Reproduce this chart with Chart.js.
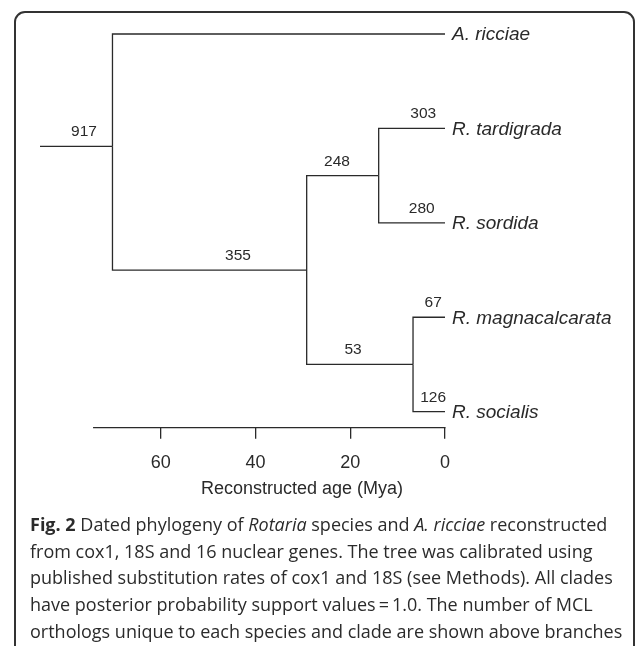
<!DOCTYPE html>
<html>
<head>
<meta charset="utf-8">
<script src="https://cdn.jsdelivr.net/npm/chart.js"></script>
<style>
  body { margin: 0; background: #fff; }
  #wrap { position: relative; width: 636px; height: 646px; overflow: hidden; }
  #frame { position: absolute; left: 14px; top: 11px; width: 621px; height: 720px; border: 2px solid #333; border-radius: 11px; box-sizing: border-box; }
  #tree { position: absolute; left: 0; top: 0; }
  #caption { position: absolute; left: 30px; top: 511px; font-family: 'Open Sans', sans-serif; font-size: 18px; line-height: 26.7px; color: #2b2b2b; white-space: nowrap; }
  #caption b { font-weight: 700; }
</style>
</head>
<body>
<div id="wrap">
  <div id="frame"></div>
  <canvas id="tree" width="636" height="520"></canvas>
  <div id="caption">
    <div><b>Fig. 2</b> Dated phylogeny of <i>Rotaria</i> species and <i>A. ricciae</i> reconstructed</div>
    <div>from cox1, 18S and 16 nuclear genes. The tree was calibrated using</div>
    <div>published substitution rates of cox1 and 18S (see Methods). All clades</div>
    <div>have posterior probability support values&#8201;=&#8201;1.0. The number of MCL</div>
    <div>orthologs unique to each species and clade are shown above branches</div>
  </div>
</div>
<script>
// tree nodes: stem start, internal nodes, then the tips from top to bottom
const nodeNames = ['stem', 'crown', 'Rotaria', 'tardigrada+sordida', 'magnacalcarata+socialis',
    'A. ricciae', 'R. tardigrada', 'R. sordida', 'R. magnacalcarata', 'R. socialis'];
const nodeAges = [85.5, 70.2, 29.2, 14.0, 6.75, 0, 0, 0, 0, 0];
const nodeRows = [1.19, 1.19, 2.5, 1.5, 3.5, 0, 1, 2, 3, 4];
const nodeParents = [-1, 0, 1, 2, 2, 1, 3, 3, 4, 4];
// MCL orthologs unique to the branch leading to each node
const orthologs = [null, 917, 355, 248, 53, null, 303, 280, 67, 126];
// age (Mya) where each count is printed along its branch
const countAges = [null, 76.2, 43.7, 22.8, 19.4, null, 4.6, 4.9, 2.5, 2.5];
const ageTicks = [60, 40, 20, 0];
const axisStart = 74.3;

const ink = '#2a2a2a';
const sans = '"Liberation Sans", Arial, Helvetica, sans-serif';

// one elbow line per branch: down/up the parent's vertical, then across to the child
const edges = [];
nodeParents.forEach((p, i) => {
    if (p < 0) return;
    edges.push({
        data: [
            {x: nodeAges[p], y: nodeRows[p]},
            {x: nodeAges[p], y: nodeRows[i]},
            {x: nodeAges[i], y: nodeRows[i]}
        ],
        showLine: true,
        borderColor: ink,
        borderWidth: 1.3,
        borderJoinStyle: 'miter',
        pointRadius: 0,
        tension: 0,
        clip: false
    });
});

const treeText = {
    id: 'treeText',
    afterDatasetsDraw(chart) {
        const {ctx, scales: {x, y}} = chart;
        ctx.save();
        ctx.fillStyle = ink;

        // ortholog counts above branches
        ctx.font = '15.5px ' + sans;
        ctx.textAlign = 'center';
        ctx.textBaseline = 'alphabetic';
        orthologs.forEach((n, i) => {
            if (n === null) return;
            ctx.fillText(String(n), x.getPixelForValue(countAges[i]), y.getPixelForValue(nodeRows[i]) - 10);
        });

        // tip names
        ctx.font = 'italic 19px ' + sans;
        ctx.textAlign = 'left';
        ctx.textBaseline = 'middle';
        nodeNames.forEach((name, i) => {
            if (nodeAges[i] !== 0) return;
            ctx.fillText(name, x.getPixelForValue(0) + 7, y.getPixelForValue(nodeRows[i]) + 1);
        });

        // time axis line
        const yb = chart.chartArea.bottom;
        ctx.strokeStyle = ink;
        ctx.lineWidth = 1.3;
        ctx.beginPath();
        ctx.moveTo(x.getPixelForValue(axisStart), yb);
        ctx.lineTo(x.getPixelForValue(0) + 0.6, yb);
        ctx.stroke();

        // axis title
        ctx.font = '18px ' + sans;
        ctx.textAlign = 'center';
        ctx.fillText('Reconstructed age (Mya)', 302, 489);
        ctx.restore();
    }
};

new Chart(document.getElementById('tree'), {
    type: 'scatter',
    data: { datasets: edges },
    options: {
        responsive: false,
        animation: false,
        layout: { padding: { left: 40, right: 191, top: 34, bottom: 0 } },
        plugins: { legend: { display: false }, tooltip: { enabled: false } },
        scales: {
            x: {
                type: 'linear',
                reverse: true,
                min: 0,
                max: 85.5,
                afterBuildTicks: s => { s.ticks = ageTicks.map(v => ({value: v})); },
                afterFit: s => { s.height = 92.3; },
                grid: { drawOnChartArea: false, drawTicks: true, tickLength: 11, color: ink, lineWidth: 1.3 },
                border: { display: false },
                ticks: { color: ink, font: { family: sans, size: 18 }, padding: 13.5, maxRotation: 0, autoSkip: false }
            },
            y: { type: 'linear', reverse: true, min: 0, max: 4.17, display: false }
        }
    },
    plugins: [treeText]
});
</script>
</body>
</html>
